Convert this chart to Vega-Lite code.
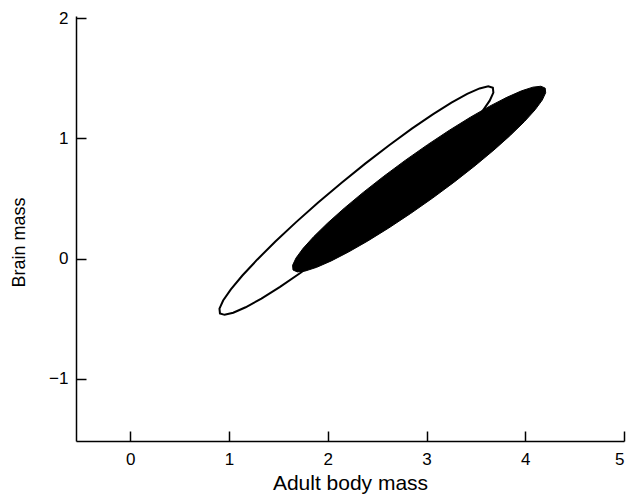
{
  "$schema": "https://vega.github.io/schema/vega-lite/v6.json",
  "width": 548,
  "height": 425,
  "autosize": {"type": "none"},
  "padding": {"left": 76, "top": 16, "right": 4, "bottom": 55},
  "background": "white",
  "config": {
    "view": {"stroke": null},
    "axis": {
      "domainColor": "black",
      "domainWidth": 1.5,
      "tickColor": "black",
      "tickWidth": 1.5,
      "tickSize": -10,
      "grid": false,
      "labelColor": "black",
      "titleColor": "black",
      "labelFont": "Liberation Sans",
      "titleFont": "Liberation Sans",
      "labelFontSize": 17,
      "titleFontWeight": "normal"
    }
  },
  "data": {
    "values": [
      {"shape": "open", "i": 0, "x": 3.672, "y": 1.4225},
      {"shape": "open", "i": 1, "x": 3.625, "y": 1.4341},
      {"shape": "open", "i": 2, "x": 3.5375, "y": 1.4168},
      {"shape": "open", "i": 3, "x": 3.4119, "y": 1.371},
      {"shape": "open", "i": 4, "x": 3.2523, "y": 1.2983},
      {"shape": "open", "i": 5, "x": 3.0636, "y": 1.2008},
      {"shape": "open", "i": 6, "x": 2.8513, "y": 1.0815},
      {"shape": "open", "i": 7, "x": 2.6218, "y": 0.944},
      {"shape": "open", "i": 8, "x": 2.3824, "y": 0.7924},
      {"shape": "open", "i": 9, "x": 2.1402, "y": 0.6315},
      {"shape": "open", "i": 10, "x": 1.9026, "y": 0.466},
      {"shape": "open", "i": 11, "x": 1.6766, "y": 0.301},
      {"shape": "open", "i": 12, "x": 1.4693, "y": 0.1415},
      {"shape": "open", "i": 13, "x": 1.287, "y": -0.0076},
      {"shape": "open", "i": 14, "x": 1.1351, "y": -0.1417},
      {"shape": "open", "i": 15, "x": 1.0183, "y": -0.257},
      {"shape": "open", "i": 16, "x": 0.9401, "y": -0.3498},
      {"shape": "open", "i": 17, "x": 0.903, "y": -0.4173},
      {"shape": "open", "i": 18, "x": 0.908, "y": -0.4575},
      {"shape": "open", "i": 19, "x": 0.955, "y": -0.4691},
      {"shape": "open", "i": 20, "x": 1.0425, "y": -0.4518},
      {"shape": "open", "i": 21, "x": 1.1681, "y": -0.406},
      {"shape": "open", "i": 22, "x": 1.3277, "y": -0.3333},
      {"shape": "open", "i": 23, "x": 1.5164, "y": -0.2358},
      {"shape": "open", "i": 24, "x": 1.7287, "y": -0.1165},
      {"shape": "open", "i": 25, "x": 1.9582, "y": 0.021},
      {"shape": "open", "i": 26, "x": 2.1976, "y": 0.1726},
      {"shape": "open", "i": 27, "x": 2.4398, "y": 0.3335},
      {"shape": "open", "i": 28, "x": 2.6774, "y": 0.499},
      {"shape": "open", "i": 29, "x": 2.9034, "y": 0.664},
      {"shape": "open", "i": 30, "x": 3.1107, "y": 0.8235},
      {"shape": "open", "i": 31, "x": 3.293, "y": 0.9726},
      {"shape": "open", "i": 32, "x": 3.4449, "y": 1.1067},
      {"shape": "open", "i": 33, "x": 3.5617, "y": 1.222},
      {"shape": "open", "i": 34, "x": 3.6399, "y": 1.3148},
      {"shape": "open", "i": 35, "x": 3.677, "y": 1.3823},
      {"shape": "open", "i": 36, "x": 3.672, "y": 1.4225},
      {"shape": "solid", "i": 0, "x": 4.202, "y": 1.4192},
      {"shape": "solid", "i": 1, "x": 4.1586, "y": 1.435},
      {"shape": "solid", "i": 2, "x": 4.0778, "y": 1.4274},
      {"shape": "solid", "i": 3, "x": 3.9618, "y": 1.3965},
      {"shape": "solid", "i": 4, "x": 3.8144, "y": 1.3431},
      {"shape": "solid", "i": 5, "x": 3.6401, "y": 1.2692},
      {"shape": "solid", "i": 6, "x": 3.4439, "y": 1.1769},
      {"shape": "solid", "i": 7, "x": 3.2319, "y": 1.0688},
      {"shape": "solid", "i": 8, "x": 3.0107, "y": 0.9483},
      {"shape": "solid", "i": 9, "x": 2.7869, "y": 0.8192},
      {"shape": "solid", "i": 10, "x": 2.5673, "y": 0.6853},
      {"shape": "solid", "i": 11, "x": 2.3585, "y": 0.5506},
      {"shape": "solid", "i": 12, "x": 2.1669, "y": 0.4193},
      {"shape": "solid", "i": 13, "x": 1.9983, "y": 0.2954},
      {"shape": "solid", "i": 14, "x": 1.858, "y": 0.1827},
      {"shape": "solid", "i": 15, "x": 1.75, "y": 0.0845},
      {"shape": "solid", "i": 16, "x": 1.6778, "y": 0.0038},
      {"shape": "solid", "i": 17, "x": 1.6434, "y": -0.057},
      {"shape": "solid", "i": 18, "x": 1.648, "y": -0.0958},
      {"shape": "solid", "i": 19, "x": 1.6914, "y": -0.1116},
      {"shape": "solid", "i": 20, "x": 1.7722, "y": -0.104},
      {"shape": "solid", "i": 21, "x": 1.8882, "y": -0.0731},
      {"shape": "solid", "i": 22, "x": 2.0356, "y": -0.0197},
      {"shape": "solid", "i": 23, "x": 2.2099, "y": 0.0542},
      {"shape": "solid", "i": 24, "x": 2.4061, "y": 0.1465},
      {"shape": "solid", "i": 25, "x": 2.6181, "y": 0.2546},
      {"shape": "solid", "i": 26, "x": 2.8393, "y": 0.3751},
      {"shape": "solid", "i": 27, "x": 3.0631, "y": 0.5042},
      {"shape": "solid", "i": 28, "x": 3.2827, "y": 0.6381},
      {"shape": "solid", "i": 29, "x": 3.4915, "y": 0.7728},
      {"shape": "solid", "i": 30, "x": 3.6831, "y": 0.9041},
      {"shape": "solid", "i": 31, "x": 3.8517, "y": 1.028},
      {"shape": "solid", "i": 32, "x": 3.992, "y": 1.1407},
      {"shape": "solid", "i": 33, "x": 4.1, "y": 1.2389},
      {"shape": "solid", "i": 34, "x": 4.1722, "y": 1.3196},
      {"shape": "solid", "i": 35, "x": 4.2066, "y": 1.3804},
      {"shape": "solid", "i": 36, "x": 4.202, "y": 1.4192}
    ]
  },
  "encoding": {
    "x": {
      "field": "x",
      "type": "quantitative",
      "scale": {"domain": [-0.55, 5.0], "nice": false, "zero": false},
      "axis": {
        "values": [0, 1, 2, 3, 4, 5],
        "title": "Adult body mass",
        "titleFontSize": 21,
        "labelPadding": 20,
        "titleX": 274,
        "titleY": 48,
        "titleBaseline": "alphabetic",
        "titleAlign": "center"
      }
    },
    "y": {
      "field": "y",
      "type": "quantitative",
      "scale": {"domain": [-1.52, 2.02], "nice": false, "zero": false},
      "axis": {
        "values": [-1, 0, 1, 2],
        "title": "Brain mass",
        "titleFontSize": 18,
        "labelPadding": 18,
        "titleX": -57,
        "titleY": 226,
        "titleAlign": "center",
        "titleBaseline": "middle",
        "titleAngle": -90
      }
    },
    "order": {"field": "i", "type": "quantitative"}
  },
  "layer": [
    {
      "transform": [{"filter": "datum.shape === 'open'"}],
      "mark": {"type": "line", "stroke": "black", "strokeWidth": 2, "fill": "white", "interpolate": "linear-closed"}
    },
    {
      "transform": [{"filter": "datum.shape === 'solid'"}],
      "mark": {"type": "line", "stroke": "black", "strokeWidth": 1, "fill": "black", "interpolate": "linear-closed"}
    }
  ]
}
